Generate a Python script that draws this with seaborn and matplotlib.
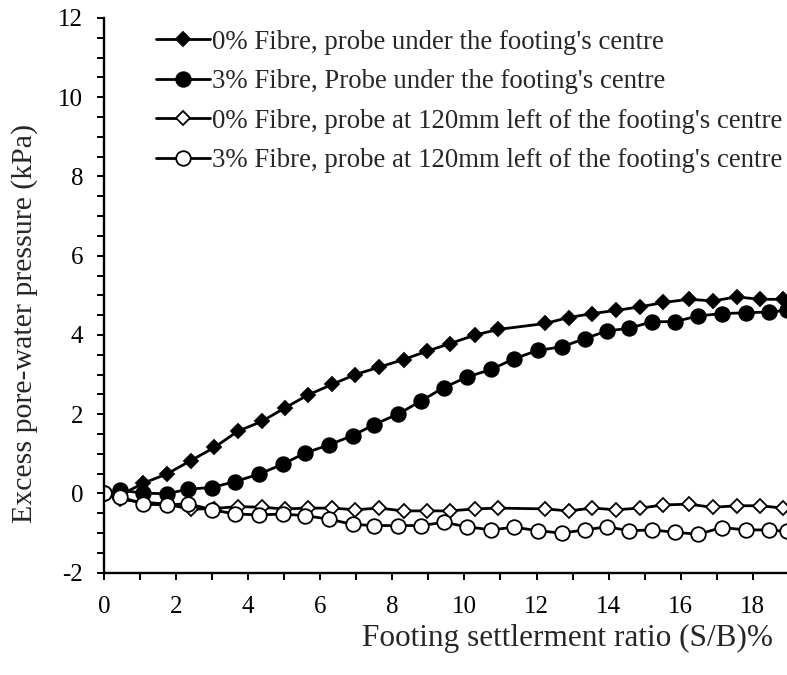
import numpy as np
import pandas as pd
import matplotlib
matplotlib.use("Agg")
import matplotlib.pyplot as plt
import seaborn as sns
from matplotlib.ticker import MultipleLocator

# settlement ratio (S/B)% for the diamond series (0% fibre)
x_d = [0, 0.44, 1.09, 1.74, 2.41, 3.06, 3.71, 4.38, 5.02, 5.65, 6.32, 6.97, 7.64,
       8.31, 8.96, 9.59, 10.30, 10.94, 12.24, 12.89, 13.55, 14.20, 14.88, 15.52,
       16.22, 16.89, 17.56, 18.21, 18.85]
# settlement ratio for the circle series (3% fibre)
x_c = [0, 0.44, 1.09, 1.74, 2.34, 2.99, 3.64, 4.31, 4.96, 5.58, 6.25, 6.90, 7.50,
       8.17, 8.79, 9.42, 10.08, 10.74, 11.38, 12.03, 12.70, 13.35, 13.95, 14.57,
       15.20, 15.85, 16.49, 17.14, 17.82, 18.46, 18.95]

# excess pore-water pressure (kPa)
p_0_centre = [0, -0.05, 0.26, 0.49, 0.83, 1.16, 1.57, 1.82, 2.16, 2.48, 2.75, 3.00,
              3.19, 3.38, 3.59, 3.78, 4.00, 4.14, 4.29, 4.44, 4.54, 4.62, 4.71, 4.82,
              4.90, 4.86, 4.96, 4.90, 4.90]
p_3_centre = [0, 0.08, 0.01, -0.01, 0.11, 0.15, 0.30, 0.49, 0.74, 1.02, 1.23, 1.46,
              1.74, 2.01, 2.33, 2.67, 2.94, 3.13, 3.40, 3.61, 3.70, 3.91, 4.10, 4.17,
              4.33, 4.34, 4.48, 4.54, 4.56, 4.58, 4.62]
p_0_left = [0, -0.15, -0.22, -0.27, -0.40, -0.38, -0.33, -0.35, -0.39, -0.37, -0.37,
            -0.41, -0.37, -0.44, -0.44, -0.44, -0.39, -0.37, -0.39, -0.44, -0.37, -0.41,
            -0.37, -0.29, -0.27, -0.35, -0.31, -0.31, -0.37]
p_3_left = [0, -0.08, -0.27, -0.29, -0.26, -0.41, -0.52, -0.54, -0.52, -0.56, -0.65,
            -0.78, -0.81, -0.81, -0.81, -0.73, -0.84, -0.92, -0.85, -0.94, -1.00,
            -0.92, -0.84, -0.94, -0.92, -0.98, -1.03, -0.86, -0.92, -0.92, -0.96]

labels = ["0% Fibre, probe under the footing's centre",
          "3% Fibre, Probe under the footing's centre",
          "0% Fibre, probe at 120mm left of the footing's centre",
          "3% Fibre, probe at 120mm left of the footing's centre"]

sns.set_style("ticks")
plt.rcParams["font.family"] = ["Liberation Serif", "DejaVu Serif"]
plt.rcParams["axes.unicode_minus"] = False

fig = plt.figure(figsize=(7.87, 6.75), dpi=100)
ax = fig.add_axes([104 / 787, 1 - 572.7 / 675, 1 - 104 / 787, (572.7 - 18) / 675])

series = [
    (x_d, p_0_centre, "D", "black", 7.2),
    (x_c, p_3_centre, "o", "black", 10.5),
    (x_d, p_0_left, "D", "white", 7.2),
    (x_c, p_3_left, "o", "white", 10.5),
]
for (xs, ys, mk, fc, ms), lab in zip(series, labels):
    sns.lineplot(x=xs, y=ys, ax=ax, color="black", linewidth=2.0, marker=mk,
                 markersize=ms, markerfacecolor=fc, markeredgecolor="black",
                 markeredgewidth=1.3, label=lab)

ax.set_xlim(0, 18.95)
ax.set_ylim(-2, 12)
ax.xaxis.set_major_locator(MultipleLocator(2))
ax.xaxis.set_minor_locator(MultipleLocator(1))
ax.yaxis.set_major_locator(MultipleLocator(2))
ax.yaxis.set_minor_locator(MultipleLocator(0.5))
ax.tick_params(which="both", direction="out", length=5, width=1.4, color="black",
               labelsize=18, labelcolor="black")
ax.tick_params(axis="x", pad=12)
ax.tick_params(axis="y", pad=10)
for s in ["top", "right"]:
    ax.spines[s].set_visible(False)
for s in ["left", "bottom"]:
    ax.spines[s].set_linewidth(1.7)
    ax.spines[s].set_color("black")

ax.set_xlabel("Footing settlerment ratio (S/B)%", fontsize=22.5, va="center", ha="right")
ax.xaxis.set_label_coords(0.98, -0.118)
ax.set_ylabel("Excess pore-water pressure (kPa)", fontsize=21.5, va="center")
ax.yaxis.set_label_coords(-0.116, 0.45)

ax.legend(loc="upper left", bbox_to_anchor=(0.076, 0.979), frameon=False,
          fontsize=19.3, handlelength=2.0, handletextpad=0.1, labelspacing=0.54,
          borderaxespad=0, borderpad=0)

fig.savefig("out.png", dpi=100)
